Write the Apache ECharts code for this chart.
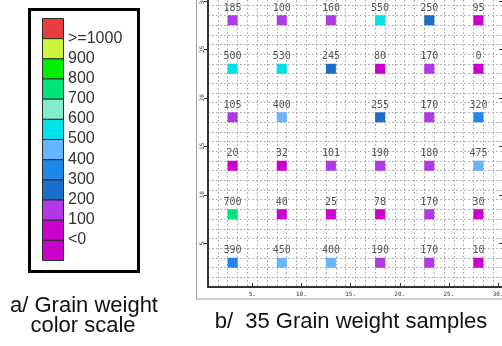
<!DOCTYPE html>
<html>
<head>
<meta charset="utf-8">
<script src="https://cdn.jsdelivr.net/npm/echarts@6/dist/echarts.min.js"></script>
<style>
html, body { margin: 0; padding: 0; background: #fff; }
#chart { width: 502px; height: 346px; }
</style>
</head>
<body>
<div id="chart"></div>
<script>
// sample grid positions (field units)
var xPos = [3, 8, 13, 18, 23, 28];
var yPos = [28, 23, 18, 13, 8, 3];
// grain weight per row, top row first (one sample missing)
var weightRows = [
  [185, 100, 160, 550, 250, 95],
  [500, 530, 245, 80, 170, 0],
  [105, 400, null, 255, 170, 320],
  [20, 32, 101, 190, 180, 475],
  [700, 40, 25, 78, 170, 30],
  [390, 450, 400, 190, 170, 10]
];
var axisTicks = [5, 10, 15, 20, 25, 30];
// colour scale, top to bottom
var scaleBreaks = [1000, 900, 800, 700, 600, 500, 400, 300, 200, 100, 0];
var scaleLabels = ['>=1000', '900', '800', '700', '600', '500', '400', '300', '200', '100', '<0'];
var scaleColors = ['#e83d3d', '#ccf53c', '#00ee00', '#00e57a', '#80efc9', '#00e1ea',
                   '#66b6ff', '#1f86ec', '#1b6fc9', '#b038e6', '#cc00cc', '#cc00cc'];

var points = [];
weightRows.forEach(function (row, r) {
  row.forEach(function (w, c) {
    if (w !== null) points.push([xPos[c], yPos[r], w]);
  });
});

var pieces = scaleColors.map(function (col, i) {
  if (i === 0) return { gte: scaleBreaks[0], color: col };
  if (i === scaleColors.length - 1) return { lt: 0, color: col };
  return { gte: scaleBreaks[i], lt: scaleBreaks[i - 1], color: col };
});

// left colour-scale panel
var sw = { x: 42, y: 18, w: 21, h: 20.17 };
var graphics = [
  { type: 'rect', z: 0, shape: { x: 196.5, y: -10, width: 320, height: 309 },
    style: { fill: 'none', stroke: '#a0a0a0', lineWidth: 1 } },
  { type: 'rect', shape: { x: 29.5, y: 9.5, width: 109, height: 262 },
    style: { fill: '#fff', stroke: '#000', lineWidth: 3 } }
];
scaleColors.forEach(function (col, i) {
  graphics.push({ type: 'rect', shape: { x: sw.x + 0.5, y: sw.y + i * sw.h + 0.5, width: sw.w, height: sw.h },
    style: { fill: col, stroke: '#2a2a2a', lineWidth: 1 } });
});
scaleLabels.forEach(function (t, i) {
  graphics.push({ type: 'text', x: 68, y: sw.y + (i + 1) * sw.h,
    style: { text: t, fill: '#333', font: '16px "Liberation Sans"', verticalAlign: 'middle', align: 'left' } });
});
graphics.push(
  { type: 'text', x: 84, y: 305.5, style: { text: 'a/ Grain weight', fill: '#111', font: '22px "Liberation Sans"', align: 'center', verticalAlign: 'middle' } },
  { type: 'text', x: 83, y: 325.5, style: { text: 'color scale', fill: '#111', font: '22px "Liberation Sans"', align: 'center', verticalAlign: 'middle' } },
  { type: 'text', x: 351, y: 321.5, style: { text: 'b/  35 Grain weight samples', fill: '#111', font: '22px "Liberation Sans"', align: 'center', verticalAlign: 'middle' } }
);

var tickFont = { fontSize: 6, color: '#333', fontFamily: 'DejaVu Sans Mono' };
var gridLine = { show: true, lineStyle: { color: '#b4b4b4', type: [2, 2], width: 1 } };

var myChart = echarts.init(document.getElementById('chart'));
myChart.setOption({
  animation: false,
  backgroundColor: '#fff',
  grid: { left: 208, right: -1, top: -4, bottom: 59, outerBoundsMode: 'none' },
  visualMap: { show: false, type: 'piecewise', dimension: 2, seriesIndex: 0, pieces: pieces },
  xAxis: [
    { type: 'value', min: 0.5, max: 30.5, position: 'bottom',
      axisLine: { lineStyle: { color: '#333', width: 2 } },
      axisTick: { inside: true, length: 4, customValues: axisTicks, lineStyle: { color: '#333' } },
      axisLabel: Object.assign({ customValues: axisTicks, margin: 4, formatter: function (v) { return v + '.'; } }, tickFont),
      splitLine: { show: false } },
    { type: 'value', min: 0.5, max: 30.5, interval: 1, position: 'top',
      axisLine: { show: false }, axisTick: { show: false }, axisLabel: { show: false },
      splitLine: gridLine }
  ],
  yAxis: [
    { type: 'value', min: 0.5, max: 30.5, position: 'left',
      axisLine: { lineStyle: { color: '#333', width: 2 } },
      axisTick: { length: 4, customValues: axisTicks, lineStyle: { color: '#333' } },
      axisLabel: Object.assign({ customValues: axisTicks, rotate: 90, margin: 3 }, tickFont),
      splitLine: { show: false } },
    { type: 'value', min: 0.5, max: 30.5, interval: 1, position: 'left',
      axisLine: { show: false }, axisTick: { show: false }, axisLabel: { show: false },
      splitLine: gridLine },
    { type: 'value', min: 0.5, max: 30.5, position: 'right',
      axisLine: { lineStyle: { color: '#333', width: 2 } },
      axisTick: { inside: true, length: 4, customValues: axisTicks, lineStyle: { color: '#333' } },
      axisLabel: { show: false }, splitLine: { show: false } }
  ],
  series: [{
    type: 'scatter',
    xAxisIndex: 0,
    yAxisIndex: 0,
    symbol: 'rect',
    symbolSize: 10,
    itemStyle: { opacity: 1 },
    data: points,
    label: {
      show: true, position: 'top', distance: 2,
      formatter: function (p) { return p.value[2]; },
      fontFamily: 'DejaVu Sans Mono', fontSize: 10, color: '#555'
    },
    z: 5
  }],
  graphic: graphics
});
</script>
</body>
</html>
